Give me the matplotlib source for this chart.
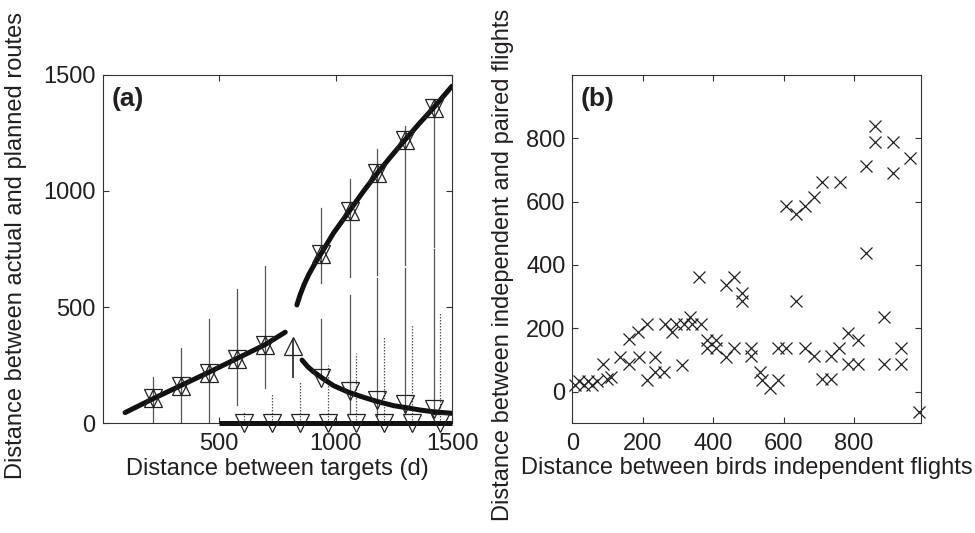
import matplotlib
matplotlib.use('Agg')
import matplotlib.pyplot as plt

plt.rcParams['font.family'] = ['Liberation Sans', 'DejaVu Sans']

# ---------------- Panel (a) data ----------------
# hourglass markers (up + down triangles) with solid error bars
hour_x = [217, 337, 457, 577, 697, 938, 1060, 1180, 1299, 1421]
hour_y = [108, 161, 218, 277, 337, 726, 914, 1077, 1220, 1357]
hour_lo = [0, 0, 0, 79, 151, 603, 629, 636, 680, 758]
hour_hi = [198, 326, 449, 577, 676, 926, 1051, 1178, 1277, 1385]

# single up triangle
up_x = [817]
up_y = [334]
up_lo = [200]
up_hi = [360]

# lower-branch down triangles with solid error bars
low_x = [938, 1060, 1180, 1299, 1421]
low_y = [194, 138, 100, 83, 63]
low_lo = [200, 40, 30, 40, 45]
low_hi = [448, 553, 625, 670, 750]

# bottom-row down triangles with dotted error bars
zero_x = [607, 727, 847, 967, 1087, 1207, 1327, 1447]
zero_y = [0, 0, 0, 0, 0, 0, 0, 0]
zero_hi = [50, 126, 179, 251, 301, 377, 429, 476]

# model curves
curve1_x = [96, 217, 337, 457, 577, 697, 784]
curve1_y = [46, 106, 163, 220, 279, 338, 392]
curve2_x = [834, 848, 865, 885, 910, 938, 991, 1060, 1120, 1180, 1240, 1299, 1360, 1421, 1500]
curve2_y = [509, 553, 597, 640, 685, 730, 818, 914, 998, 1077, 1150, 1220, 1290, 1357, 1450]
curve3_x = [856, 880, 905, 941, 991, 1060, 1120, 1178, 1249, 1299, 1364, 1418, 1500]
curve3_y = [272, 244, 222, 196, 162, 132, 112, 94, 76, 68, 57, 50, 43]
flat_x = [500, 1500]
flat_y = [0, 0]

xticks_a = [500, 1000, 1500]
yticks_a = [0, 500, 1000, 1500]

# ---------------- Panel (b) data ----------------
bx = [8, 20, 32, 45, 57, 70, 88, 98, 110, 136, 160, 160, 188, 187, 211, 211,
      235, 235, 259, 264, 283, 293, 312, 316, 335, 340, 364, 360, 383, 383,
      407, 407, 435, 459, 435, 459, 483, 483, 507, 507, 533, 538, 560, 584,
      584, 608, 608, 636, 660, 686, 710, 760, 636, 660, 686, 710, 734, 734,
      758, 784, 810, 784, 810, 835, 835, 860, 860, 884, 884, 910, 910, 934,
      934, 960, 984]
by = [20, 35, 20, 35, 20, 35, 86, 40, 45, 108, 87, 165, 110, 189, 214, 38,
      110, 63, 63, 215, 189, 215, 85, 215, 237, 215, 215, 363, 163, 137,
      163, 137, 338, 363, 110, 137, 312, 287, 137, 112, 63, 38, 12, 37,
      137, 137, 587, 561, 587, 614, 663, 663, 287, 137, 113, 39, 39, 113,
      137, 186, 163, 87, 87, 713, 439, 839, 789, 237, 87, 789, 689, 137,
      87, 739, -63]

xticks_b = [0, 200, 400, 600, 800]
yticks_b = [0, 200, 400, 600, 800]

# ---------------- Figure ----------------
fig = plt.figure(figsize=(9.75, 5.33), dpi=100)
ax1 = fig.add_axes([0.1053, 0.2058, 0.3583, 0.6544])
ax2 = fig.add_axes([0.587, 0.2058, 0.3576, 0.6535])

txt = '#231f20'
fs = 17
bar_c = '#555555'

# error bars
for x, lo, hi in zip(hour_x, hour_lo, hour_hi):
    ax1.plot([x, x], [lo, hi], color=bar_c, lw=0.9, zorder=1)
for x, lo, hi in zip(up_x, up_lo, up_hi):
    ax1.plot([x, x], [lo, hi], color='#333333', lw=1.3, zorder=1)
for x, lo, hi in zip(low_x, low_lo, low_hi):
    ax1.plot([x, x], [lo, hi], color=bar_c, lw=0.9, zorder=1)
for x, y, hi in zip(zero_x, zero_y, zero_hi):
    ax1.plot([x, x], [y, hi], color=bar_c, lw=0.9, ls=(0, (1.2, 1.2)), zorder=1)

# curves
lw_c = 3.6
ax1.plot(curve1_x, curve1_y, color='#111111', lw=lw_c, solid_capstyle='round',
         solid_joinstyle='round', zorder=3)
ax1.plot(curve2_x, curve2_y, color='#111111', lw=lw_c, solid_capstyle='round',
         solid_joinstyle='round', zorder=3)
ax1.plot(curve3_x, curve3_y, color='#111111', lw=lw_c, solid_capstyle='round',
         solid_joinstyle='round', zorder=3)
ax1.plot(flat_x, flat_y, color='#111111', lw=lw_c, solid_capstyle='butt', zorder=3, clip_on=False)

# markers
ms = 12.5
mk = dict(linestyle='none', markerfacecolor='none', markeredgecolor='#222222',
          markeredgewidth=0.9, markersize=ms, zorder=4)
ax1.plot(hour_x, hour_y, marker='^', **mk)
ax1.plot(hour_x, hour_y, marker='v', **mk)
ax1.plot(up_x, up_y, marker='^', **mk)
ax1.plot(low_x, low_y, marker='v', **mk)
ax1.plot(zero_x, zero_y, marker='v', clip_on=False, **mk)

ax1.set_xlim(0, 1500)
ax1.set_ylim(0, 1500)
ax1.set_xticks(xticks_a)
ax1.set_yticks(yticks_a)
ax1.set_xlabel('Distance between targets (d)', fontsize=fs, color=txt)
ax1.set_ylabel('Distance between actual and planned routes', fontsize=fs, color=txt)
ax1.xaxis.set_label_coords(0.5, -0.1)
ax1.yaxis.set_label_coords(-0.217, 0.51)
ax1.text(0.025, 0.965, '(a)', transform=ax1.transAxes, fontsize=19, fontweight='bold',
         va='top', ha='left', color=txt)

# panel (b)
ax2.plot(bx, by, linestyle='none', marker='x', markersize=9, markeredgewidth=0.9,
         color='#222222', clip_on=False)
ax2.set_xlim(0, 990)
ax2.set_ylim(-100, 1000)
ax2.set_xticks(xticks_b)
ax2.set_yticks(yticks_b)
ax2.set_xlabel('Distance between birds independent flights', fontsize=fs, color=txt)
ax2.set_ylabel('Distance between independent and paired flights', fontsize=fs, color=txt)
ax2.xaxis.set_label_coords(0.5, -0.098)
ax2.yaxis.set_label_coords(-0.167, 0.455)
ax2.text(0.025, 0.965, '(b)', transform=ax2.transAxes, fontsize=19, fontweight='bold',
         va='top', ha='left', color=txt)

for ax in (ax1, ax2):
    ax.tick_params(direction='in', top=True, right=True, length=4, width=0.8,
                   labelsize=fs, labelcolor=txt, color='#333333')
    ax.tick_params(axis='x', pad=7)
    ax.tick_params(axis='y', pad=5)
    for s in ax.spines.values():
        s.set_linewidth(0.8)
        s.set_color('#333333')

fig.savefig('out.png', dpi=100)
